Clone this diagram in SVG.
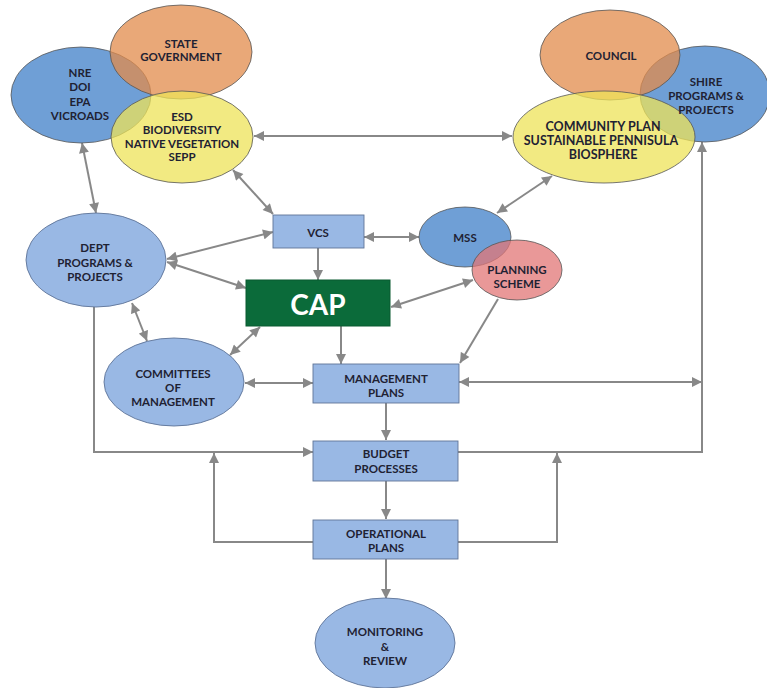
<svg xmlns="http://www.w3.org/2000/svg" width="767" height="688" viewBox="0 0 767 688">
<defs>
<style>
.t{font-family:Lato,"Liberation Sans",sans-serif;font-weight:bold;font-size:11.5px;fill:#1f2233;text-anchor:middle;dominant-baseline:central}
.tb{font-size:12.5px}
.ov{fill-opacity:0.75;stroke:#555;stroke-width:0.8}
.lb{fill:#99b8e4;stroke:#5f7497;stroke-width:0.9}
.c{fill:none;stroke:#888;stroke-width:2}
.b{marker-start:url(#ah);marker-end:url(#ah)}
.e{marker-end:url(#ah)}
</style>
<marker id="ah" viewBox="0 0 10 10" refX="10" refY="5" markerWidth="11" markerHeight="10" markerUnits="userSpaceOnUse" orient="auto-start-reverse"><path d="M0,0 L10,5 L0,10 z" fill="#888"/></marker>
</defs>
<rect width="767" height="688" fill="#fff"/>

<g id="connectors">
<line class="c b" x1="82" y1="143" x2="96" y2="213"/>
<line class="c b" x1="233" y1="170" x2="273" y2="214"/>
<line class="c b" x1="254" y1="136" x2="512" y2="136"/>
<line class="c b" x1="497" y1="213" x2="552" y2="176"/>
<line class="c b" x1="167" y1="259" x2="273" y2="232"/>
<line class="c b" x1="167" y1="262" x2="246" y2="288"/>
<line class="c e" x1="318" y1="248" x2="318" y2="280"/>
<line class="c b" x1="364" y1="237" x2="419" y2="237"/>
<line class="c b" x1="391" y1="307" x2="473" y2="280"/>
<line class="c b" x1="132" y1="303" x2="147" y2="341"/>
<line class="c b" x1="260" y1="327" x2="230" y2="355"/>
<line class="c e" x1="341" y1="326" x2="341" y2="364"/>
<line class="c e" x1="498" y1="299" x2="460" y2="363"/>
<line class="c b" x1="245" y1="383" x2="313" y2="383"/>
<line class="c b" x1="459" y1="382" x2="702" y2="382"/>
<polyline class="c e" points="458,452 702,452 702,142"/>
<polyline class="c e" points="94,307 94,452 313,452"/>
<line class="c e" x1="386" y1="403" x2="386" y2="440"/>
<line class="c e" x1="386" y1="480" x2="386" y2="519"/>
<line class="c e" x1="386" y1="559" x2="386" y2="599"/>
<polyline class="c e" points="313,542 214,542 214,453"/>
<polyline class="c e" points="458,542 557,542 557,453"/>
</g>

<g id="nre"><ellipse class="ov" cx="81" cy="95" rx="70" ry="48" fill="#3f7fc8"/></g>
<g id="state-government"><ellipse class="ov" cx="181" cy="52" rx="71" ry="47" fill="#e18b4b"/></g>
<g id="esd"><ellipse class="ov" cx="182" cy="137" rx="71" ry="46" fill="#ede358"/></g>

<g id="shire"><ellipse class="ov" cx="705" cy="94" rx="65" ry="48" fill="#3f7fc8"/></g>
<g id="council"><ellipse class="ov" cx="610" cy="55" rx="70" ry="45" fill="#e18b4b"/></g>
<g id="community-plan"><ellipse class="ov" cx="604" cy="137" rx="91" ry="46" fill="#ede358"/></g>

<g id="mss"><ellipse class="ov" cx="465" cy="237" rx="46" ry="30" fill="#3f7fc8"/></g>
<g id="planning-scheme"><ellipse class="ov" cx="517" cy="270" rx="45" ry="30" fill="#e17575"/></g>

<g id="labels-top">
<text class="t" x="181" y="43">STATE</text>
<text class="t" x="181" y="56">GOVERNMENT</text>
<text class="t" x="80" y="72">NRE</text>
<text class="t" x="80" y="86">DOI</text>
<text class="t" x="80" y="101">EPA</text>
<text class="t" x="80" y="115">VICROADS</text>
<text class="t" x="182" y="116">ESD</text>
<text class="t" x="182" y="129">BIODIVERSITY</text>
<text class="t" x="182" y="143">NATIVE VEGETATION</text>
<text class="t" x="182" y="156">SEPP</text>
<text class="t" x="611" y="55">COUNCIL</text>
<text class="t" x="706" y="81">SHIRE</text>
<text class="t" x="706" y="95">PROGRAMS &amp;</text>
<text class="t" x="706" y="109">PROJECTS</text>
<text class="t tb" x="603" y="126">COMMUNITY PLAN</text>
<text class="t tb" x="601" y="140">SUSTAINABLE PENNISULA</text>
<text class="t tb" x="603" y="154">BIOSPHERE</text>
<text class="t" x="465" y="237">MSS</text>
<text class="t" x="517" y="269">PLANNING</text>
<text class="t" x="517" y="283">SCHEME</text>
</g>

<g id="dept"><ellipse class="lb" cx="96" cy="260" rx="70" ry="47"/>
<text class="t" x="95" y="247">DEPT</text>
<text class="t" x="95" y="262">PROGRAMS &amp;</text>
<text class="t" x="95" y="276">PROJECTS</text></g>

<g id="vcs"><rect class="lb" x="273" y="215" width="91" height="33"/>
<text class="t" x="318" y="232">VCS</text></g>

<g id="cap"><rect x="246" y="280" width="144" height="46" fill="#0b6b3a" stroke="#0a5a30"/>
<text x="318" y="304" style="font-family:Lato,'Liberation Sans',sans-serif;font-weight:bold;font-size:28px;fill:#fff;text-anchor:middle;dominant-baseline:central">CAP</text></g>

<g id="committees"><ellipse class="lb" cx="174" cy="382" rx="70" ry="44"/>
<text class="t" x="173" y="373">COMMITTEES</text>
<text class="t" x="173" y="387">OF</text>
<text class="t" x="173" y="401">MANAGEMENT</text></g>

<g id="management-plans"><rect class="lb" x="313" y="364" width="146" height="39"/>
<text class="t" x="386" y="378">MANAGEMENT</text>
<text class="t" x="386" y="392">PLANS</text></g>

<g id="budget"><rect class="lb" x="313" y="441" width="145" height="40"/>
<text class="t" x="386" y="453">BUDGET</text>
<text class="t" x="386" y="468">PROCESSES</text></g>

<g id="operational"><rect class="lb" x="313" y="520" width="145" height="39"/>
<text class="t" x="386" y="533">OPERATIONAL</text>
<text class="t" x="386" y="547">PLANS</text></g>

<g id="monitoring"><ellipse class="lb" cx="385" cy="643" rx="70" ry="45"/>
<text class="t" x="385" y="631">MONITORING</text>
<text class="t" x="385" y="646">&amp;</text>
<text class="t" x="385" y="660">REVIEW</text></g>
</svg>
